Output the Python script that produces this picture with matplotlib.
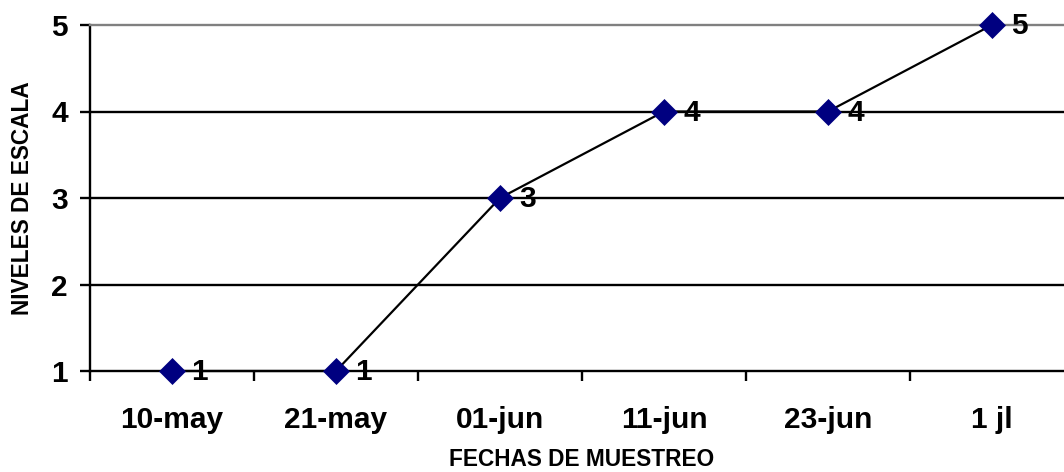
import matplotlib
matplotlib.use("Agg")
import matplotlib.pyplot as plt

# Sampling dates and the scale level recorded on each
fechas = ["10-may", "21-may", "01-jun", "11-jun", "23-jun", "1 jl"]
niveles = [1, 1, 3, 4, 4, 5]
y_ticks = [1, 2, 3, 4, 5]

plt.rcParams["font.family"] = ["Liberation Sans", "DejaVu Sans"]
plt.rcParams["font.weight"] = "bold"

W, H = 1064, 472
fig = plt.figure(figsize=(W / 100, H / 100), dpi=100)
left, right, top, bottom = 90, 1074, 25, 371
ax = fig.add_axes([left / W, (H - bottom) / H, (right - left) / W, (bottom - top) / H])

x = list(range(len(fechas)))

# Horizontal grid at the inner levels
for yv in y_ticks[1:-1]:
    ax.axhline(yv, color="black", lw=1.7, zorder=1)

ax.plot(x, niveles, color="black", lw=1.6, zorder=4, clip_on=False,
        marker="D", markersize=13, markerfacecolor="#000080",
        markeredgecolor="#000080", markeredgewidth=0.5)

for xi, yi in zip(x, niveles):
    ax.annotate(str(yi), (xi, yi), xytext=(14, -1), textcoords="offset points",
                ha="left", va="center", fontsize=21.5, fontweight="bold", zorder=5)

ax.set_xlim(-0.5, len(fechas) - 0.5)
ax.set_ylim(y_ticks[0], y_ticks[-1])

ax.set_xticks(x)
ax.set_xticklabels(fechas, fontsize=21.5, fontweight="bold")
ax.set_xticks([i - 0.5 for i in range(len(fechas) + 1)], minor=True)
ax.tick_params(axis="x", which="major", length=0, pad=25)
ax.tick_params(axis="x", which="minor", direction="out", length=7, width=1.7)

ax.set_yticks(y_ticks)
ax.set_yticklabels([str(v) for v in y_ticks], fontsize=21.5, fontweight="bold")
ax.tick_params(axis="y", direction="out", length=7, width=1.7, pad=9)

for side in ("left", "bottom"):
    ax.spines[side].set_linewidth(1.7)
    ax.spines[side].set_color("black")
ax.spines["top"].set_color("#808080")
ax.spines["top"].set_linewidth(1.7)
ax.spines["right"].set_visible(False)

ax.set_xlabel("FECHAS DE MUESTREO", fontsize=16.3, fontweight="bold", labelpad=10)
ax.set_ylabel("NIVELES DE ESCALA", fontsize=16.3, fontweight="bold", labelpad=12)

fig.savefig("out.png", dpi=100, facecolor="white")
